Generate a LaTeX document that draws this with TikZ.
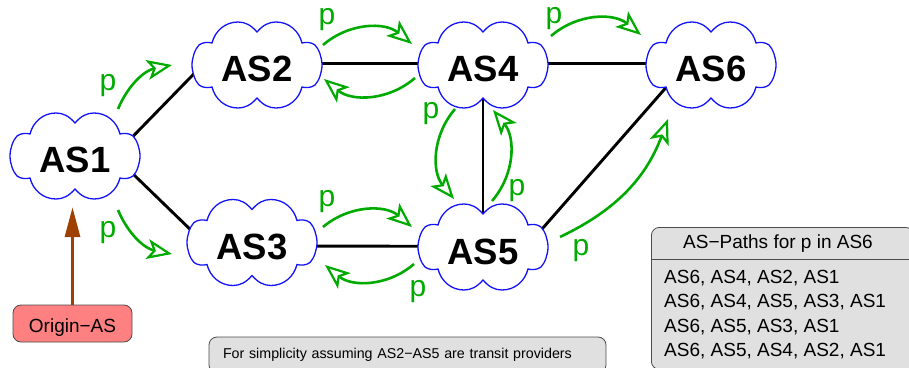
\documentclass[tikz,border=0pt]{standalone}
\usepackage{fontspec}
\setmainfont{Liberation Sans}
\usetikzlibrary{positioning,calc,arrows.meta,backgrounds}
\definecolor{asblue}{RGB}{20,20,250}
\definecolor{pgreen}{RGB}{0,170,0}
\definecolor{originbrown}{RGB}{160,64,0}
\definecolor{originred}{RGB}{255,128,128}
\definecolor{boxgray}{RGB}{224,224,224}
\tikzset{ascloud/.style={draw=asblue, fill=white, line width=1.3pt}}
\tikzset{astext/.style={font=\fontsize{36.5}{37}\selectfont\bfseries, minimum width=80pt, text height=34pt, text depth=0pt, inner sep=0pt}}
\tikzset{link/.style={draw, black, line width=2.9pt}}
\tikzset{parr/.style={draw=pgreen, line width=2.6pt, -{Stealth[length=25pt,width=20pt,inset=6pt,fill=white,line width=2.2pt]}}}
\tikzset{plabel/.style={text=pgreen, font=\fontsize{30}{30}\selectfont, inner sep=0pt}}
\tikzset{origarr/.style={draw=originbrown, line width=3pt, -{Triangle[length=30pt,width=15pt]}}}
\tikzset{notebox/.style={draw=black!70, fill=boxgray, rounded corners=8pt, line width=0.8pt, inner sep=0pt}}
\newcommand{\cloudat}[3]{%
  \begin{scope}[shift={#1}]
    \path[ascloud] (0,33) .. controls (-6,40) and (-12,43) .. (-19,43)
      .. controls (-32,43) and (-42,34) .. (-45,22)
      .. controls (-49,23) and (-54,23) .. (-58,20)
      .. controls (-62,16) and (-65,7) .. (-65,0)
      .. controls (-65,-7) and (-62,-16) .. (-58,-20)
      .. controls (-54,-23) and (-49,-23) .. (-45,-22)
      .. controls (-42,-34) and (-32,-43) .. (-19,-43)
      .. controls (-12,-43) and (-6,-40) .. (0,-33)
      .. controls (6,-40) and (12,-43) .. (19,-43)
      .. controls (32,-43) and (42,-34) .. (45,-22)
      .. controls (49,-23) and (54,-23) .. (58,-20)
      .. controls (62,-16) and (65,-7) .. (65,0)
      .. controls (65,7) and (62,16) .. (58,20)
      .. controls (54,23) and (49,23) .. (45,22)
      .. controls (42,34) and (32,43) .. (19,43)
      .. controls (12,43) and (6,40) .. (0,33) -- cycle;
    \node[astext] (#2) at (0,0) {#3};
  \end{scope}}
\begin{document}
\begin{tikzpicture}[x=1pt,y=1pt]
    \useasboundingbox (0,0) rectangle (909,367);
    \cloudat{(75,211)}{as1}{AS1}
    \cloudat{(257,302)}{as2}{AS2}
    \cloudat{(252,124.5)}{as3}{AS3}
    \cloudat{(483,302)}{as4}{AS4}
    \cloudat{(483,120)}{as5}{AS5}
    \cloudat{(711,302)}{as6}{AS6}
    \begin{pgfonlayer}{background}
        \draw[link] (as1.2.4) -- (as2.160.3);
        \draw[link] (as1.-1) -- (as3.191);
        \draw[link] (as2.2) -- (as4.178);
        \draw[link] (as3.-5) -- (as5.179);
        \draw[link] (as4) -- (as5);
        \draw[link] (as4.2) -- (as6.178);
        \draw[link] (as5.-5) -- (as6.203.5);
    \end{pgfonlayer}
    % p announcements
    \foreach \n/\x/\y in {a/118/258, b/172/302, c/118/157, d/172/113,
        e/323/322, f/412/323, g/415/289, h/324/288,
        i/551/331, j/641/332, k/323/140, l/412/140,
        m/414/103, n/325/102, o/455/258, q/454/168,
        r/492/166, s/493/257, t/560/130, u/668/248}
        \coordinate (\n) at (\x,\y);
    \foreach \from/\to/\how in {e/f/left, g/h/left, i/j/left, k/l/left, m/n/left, o/q/right, r/s/right}
        \draw[parr] (\from) to[bend \how=40] (\to);
    \foreach \from/\to/\how in {a/b/left, c/d/right}
        \draw[parr] (\from) to[bend \how=28] (\to);
    \draw[parr] (t) to[bend right=22] (u);
    \foreach \n/\x/\y in {p1/108/281, p2/108/134, p3/327/347, p4/327/165, p5/554/348,
        p6/418/75, p7/431/253, p8/517/176, p9/581/116}
        \node[plabel] (\n) at (\x,\y) {p};
    % origin
    \node[notebox, fill=originred, minimum width=119pt, minimum height=37pt, text height=17.7pt, text depth=0pt, font=\fontsize{19}{19}\selectfont] (origin) at (72.5,43.5) {Origin−AS};
    \draw[origarr, shorten >=34pt] (origin.north) -- (origin.north |- as1.south);
    % notes
    \node[notebox, inner xsep=14pt, text width=369pt, align=left, minimum height=36pt, font=\fontsize{14.25}{14.25}\selectfont] (note) at (407.5,12) {For simplicity assuming AS2−AS5 are transit providers};
    \node[notebox, minimum width=262pt, minimum height=142pt, anchor=north west] (pathbox) at (651,140) {};
    \node[font=\fontsize{19}{19}\selectfont, inner sep=0pt] (pathtitle) at (778,123) {AS−Paths for p in AS6};
    \draw[black!70, line width=0.8pt] (pathbox.west |- 0,108) coordinate (rulel) -- (rulel -| pathbox.east);
    \node[font=\fontsize{19}{24.3}\selectfont, align=left, inner sep=0pt, anchor=north west] (pathlist) at (664,97) {AS6, AS4, AS2, AS1\\AS6, AS4, AS5, AS3, AS1\\AS6, AS5, AS3, AS1\\AS6, AS5, AS4, AS2, AS1};
\end{tikzpicture}
\end{document}
